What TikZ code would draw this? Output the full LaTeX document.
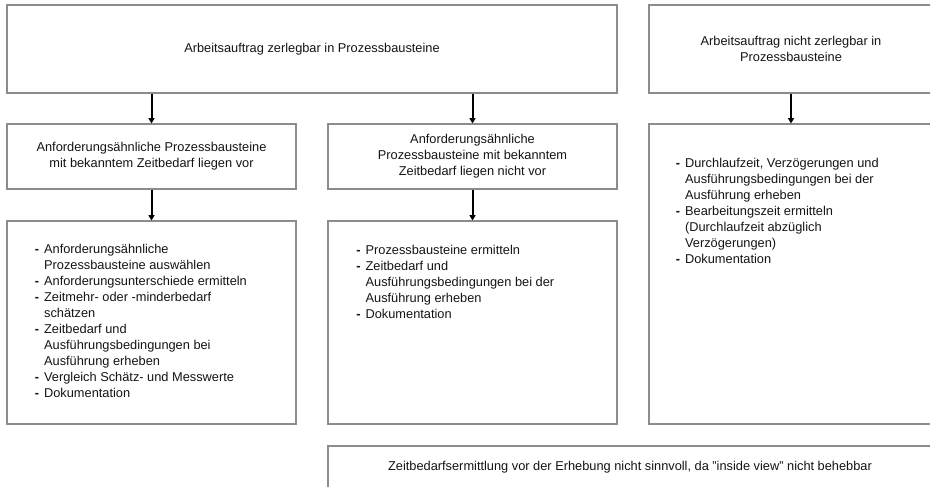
\documentclass[tikz,border=0pt]{standalone}
\usepackage{fontspec}
\setmainfont{Liberation Sans}
\usetikzlibrary{arrows.meta}
\definecolor{bordergray}{RGB}{140,140,140}
\definecolor{txt}{RGB}{20,20,20}
\newcommand\itm{\makebox[7pt][l]{\textbf{-}}}
\newcommand\cnt{\hspace*{7pt}}
\tikzset{
  box/.style={draw=bordergray, line width=0.8pt, inner sep=0pt, align=center,
    text=txt, font=\fontsize{9.6}{12}\selectfont},
  listtext/.style={anchor=north west, inner sep=0pt, align=left, text=txt,
    font=\fontsize{9.6}{12}\selectfont},
  arr/.style={line width=1.5pt, black, -{Triangle[width=4.5pt,length=4pt]}}
}
\begin{document}
\begin{tikzpicture}[x=0.75pt,y=-0.75pt]
\useasboundingbox (0,0) rectangle (930,486);
% top row
\node[box, minimum width=457.5pt, minimum height=66pt] (A) at (312,49)
  {Arbeitsauftrag zerlegbar in Prozessbausteine};
\node[box, minimum width=213pt, minimum height=66pt] (B) at (791,49)
  {Arbeitsauftrag nicht zerlegbar in\\Prozessbausteine};
% second row
\node[box, minimum width=216.75pt, minimum height=48.75pt] (C) at (151.5,156.5)
  {Anforderungsähnliche Prozessbausteine\\mit bekanntem Zeitbedarf liegen vor};
\node[box, minimum width=216.75pt, minimum height=48.75pt] (D) at (472.5,156.5)
  {Anforderungsähnliche\\Prozessbausteine mit bekanntem\\Zeitbedarf liegen nicht vor};
\node[box, minimum width=213pt, minimum height=225pt] (E) at (791,274) {};
% third row
\node[box, minimum width=216.75pt, minimum height=152.25pt] (F) at (151.5,322.5) {};
\node[box, minimum width=216.75pt, minimum height=152.25pt] (G) at (472.5,322.5) {};
% bottom
\node[box, minimum width=453pt, minimum height=31.5pt] (H) at (630,467)
  {Zeitbedarfsermittlung vor der Erhebung nicht sinnvoll, da "inside view" nicht behebbar};
% list texts
\node[listtext] (Ft) at (34.5,244) {\itm Anforderungsähnliche\\
  \cnt Prozessbausteine auswählen\\
  \itm Anforderungsunterschiede ermitteln\\
  \itm Zeitmehr- oder -minderbedarf\\
  \cnt schätzen\\
  \itm Zeitbedarf und\\
  \cnt Ausführungsbedingungen bei\\
  \cnt Ausführung erheben\\
  \itm Vergleich Schätz- und Messwerte\\
  \itm Dokumentation};
\node[listtext] (Gt) at (356,245) {\itm Prozessbausteine ermitteln\\
  \itm Zeitbedarf und\\
  \cnt Ausführungsbedingungen bei der\\
  \cnt Ausführung erheben\\
  \itm Dokumentation};
\node[listtext] (Et) at (675.5,157.5) {\itm Durchlaufzeit, Verzögerungen und\\
  \cnt Ausführungsbedingungen bei der\\
  \cnt Ausführung erheben\\
  \itm Bearbeitungszeit ermitteln\\
  \cnt (Durchlaufzeit abzüglich\\
  \cnt Verzögerungen)\\
  \itm Dokumentation};
% arrows
\draw[arr] (A.south -| C.north) -- (C.north);
\draw[arr] (A.south -| D.north) -- (D.north);
\draw[arr] (B.south) -- (E.north);
\draw[arr] (C.south) -- (F.north);
\draw[arr] (D.south) -- (G.north);
\end{tikzpicture}
\end{document}
